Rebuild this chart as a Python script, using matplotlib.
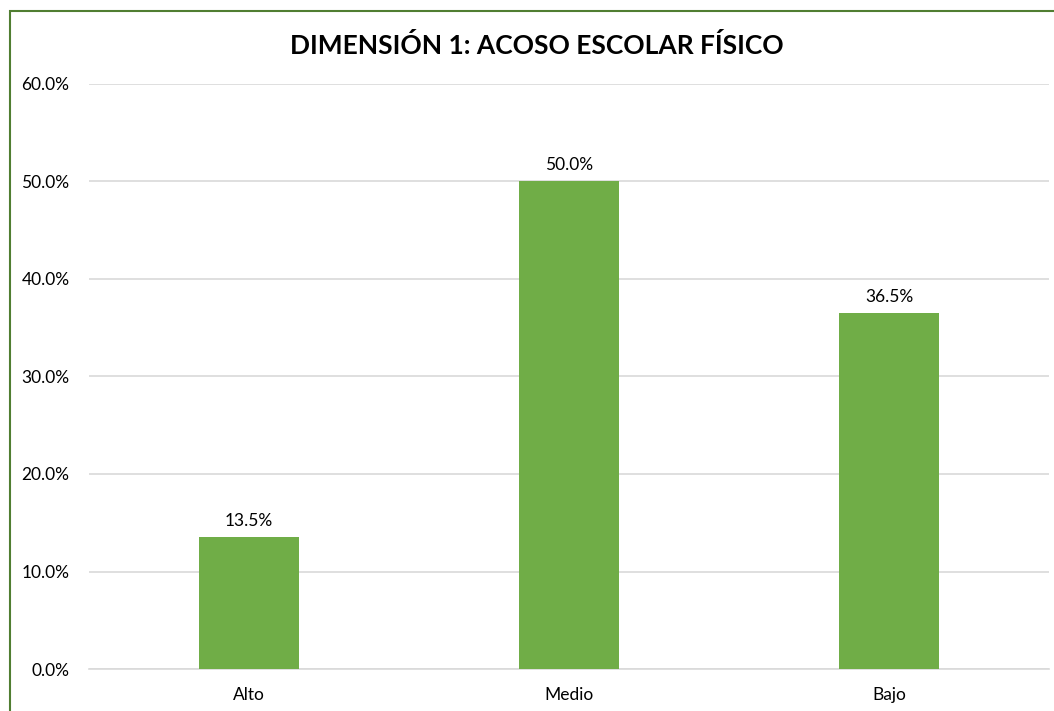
import matplotlib
matplotlib.use("Agg")
import matplotlib.pyplot as plt
from matplotlib.patches import Rectangle
from matplotlib.ticker import FuncFormatter, MultipleLocator

# -----------------------------
# Data
# -----------------------------
categories = ["Alto", "Medio", "Bajo"]
values = [13.5, 50.0, 36.5]

BAR_COLOR = "#70AD47"
GRID_COLOR = "#D9D9D9"
BORDER_COLOR = "#507E32"

plt.rcParams["font.family"] = ["Lato", "DejaVu Sans"]

fig = plt.figure(figsize=(10.54, 7.11), dpi=100)
ax = fig.add_axes([89 / 1054, 42 / 711, 960 / 1054, 585 / 711])

x = range(len(categories))
ax.bar(x, values, width=0.3125, color=BAR_COLOR, zorder=3)

for xi, v in zip(x, values):
    ax.annotate(f"{v:.1f}%", (xi, v), xytext=(0, 6), textcoords="offset points",
                ha="center", va="bottom", fontsize=12.5, color="#000000")

ax.set_xlim(-0.5, len(categories) - 0.5)
ax.set_ylim(0, 60)
ax.yaxis.set_major_locator(MultipleLocator(10))
ax.yaxis.set_major_formatter(FuncFormatter(lambda v, _: f"{v:.1f}%"))
ax.set_xticks(list(x))
ax.set_xticklabels(categories)
ax.tick_params(axis="both", length=0, labelsize=12.5, colors="#000000")
ax.tick_params(axis="y", pad=14)
ax.tick_params(axis="x", pad=13)

ax.grid(axis="y", color=GRID_COLOR, linewidth=1.2, zorder=0)
for side in ["top", "right", "left"]:
    ax.spines[side].set_visible(False)
ax.spines["bottom"].set_color(GRID_COLOR)
ax.spines["bottom"].set_linewidth(1.2)

fig.text(537 / 1054, 1 - 45 / 711, "DIMENSIÓN 1: ACOSO ESCOLAR FÍSICO",
         ha="center", va="center", fontsize=19, fontweight="bold")

# chart border (cropped at right and bottom in the original)
fig.patches.append(Rectangle((10 / 1054, -0.1), 1.2, 1 - 11 / 711 + 0.1,
                             transform=fig.transFigure, fill=False,
                             edgecolor=BORDER_COLOR, linewidth=1.5))

fig.savefig("out.png", dpi=100)
